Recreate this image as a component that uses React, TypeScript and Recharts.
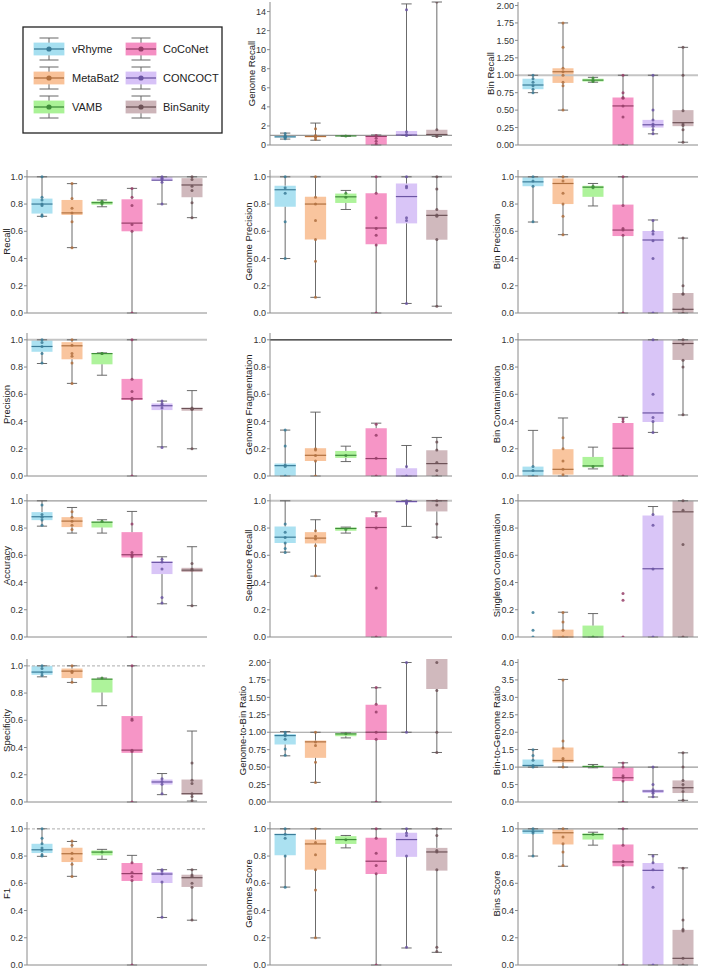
import React from 'react';
import { ComposedChart, ReferenceArea, ReferenceLine, Scatter, XAxis, YAxis } from 'recharts';

const methods = ['vRhyme', 'MetaBat2', 'VAMB', 'CoCoNet', 'CONCOCT', 'BinSanity'];

// each box: [low whisker, q1, median, q3, high whisker], one per method
const genomeRecallBox = [[0.62, 0.8, 0.85, 0.95, 1.25], [0.5, 0.8, 0.9, 1.0, 2.3], [0.9, 0.93, 0.95, 0.98, 1.0], [0, 0, 0.9, 0.98, 1.05], [1.0, 1.0, 1.05, 1.47, 14.8], [0.9, 1.05, 1.1, 1.6, 15]];
const genomeRecallPts = [[1.2, 0.95, 0.9, 0.85, 0.8, 0.65], [1.7, 1.0, 0.9, 0.8, 0.6], [0.95], [1.0, 0.7, 0.4, 0.1], [14.2, 1.4, 1.1, 1.0], [15, 1.6, 1.0, 0.9]];

const binRecallBox = [[0.75, 0.8, 0.86, 0.95, 1.0], [0.5, 0.89, 1.05, 1.1, 1.75], [0.9, 0.91, 0.93, 0.95, 0.97], [0, 0, 0.56, 0.68, 1.0], [0.16, 0.25, 0.29, 0.36, 1.0], [0.04, 0.27, 0.32, 0.5, 1.4]];
const binRecallPts = [[1.0, 0.95, 0.9, 0.85, 0.8, 0.75], [1.75, 1.4, 1.1, 1.05, 1.0, 0.9, 0.85, 0.5], [0.96, 0.93, 0.91], [1.0, 0.75, 0.68, 0.67, 0.56, 0.4, 0], [1.0, 0.5, 0.36, 0.3, 0.27, 0.22, 0.16], [1.4, 1.0, 0.49, 0.3, 0.28, 0.22, 0.04]];

const recallBox = [[0.71, 0.73, 0.8, 0.84, 1.0], [0.48, 0.72, 0.735, 0.83, 0.95], [0.78, 0.795, 0.81, 0.82, 0.83], [0, 0.6, 0.66, 0.835, 0.915], [0.8, 0.975, 0.975, 1.0, 1.0], [0.7, 0.85, 0.94, 0.99, 1.0]];
const recallPts = [[1.0, 0.85, 0.83, 0.8, 0.79, 0.72, 0.71], [0.95, 0.84, 0.77, 0.735, 0.67, 0.48], [0.82, 0.81, 0.8], [0.915, 0.85, 0.79, 0.65, 0.6, 0], [1.0, 0.99, 0.98, 0.96, 0.8], [1.0, 0.98, 0.93, 0.9, 0.81, 0.7]];

const genomePrecisionBox = [[0.4, 0.78, 0.905, 0.935, 1.0], [0.115, 0.54, 0.8, 0.853, 1.0], [0.76, 0.808, 0.853, 0.877, 0.9], [0, 0.504, 0.624, 0.88, 1.0], [0.07, 0.658, 0.855, 0.951, 1.0], [0.05, 0.538, 0.717, 0.757, 1.0]];
const genomePrecisionPts = [[1.0, 0.92, 0.88, 0.67, 0.4], [1.0, 0.85, 0.8, 0.68, 0.54, 0.38, 0.115], [0.88, 0.85], [1.0, 0.88, 0.7, 0.62, 0.57, 0.5, 0], [1.0, 0.93, 0.92, 0.7, 0.68, 0.07], [1.0, 0.91, 0.76, 0.72, 0.71, 0.54, 0.05]];

const binPrecisionBox = [[0.668, 0.931, 0.963, 1.0, 1.0], [0.575, 0.8, 0.951, 0.988, 1.0], [0.786, 0.853, 0.924, 0.934, 0.951], [0, 0.565, 0.609, 0.796, 1.0], [0, 0, 0.536, 0.602, 0.683], [0, 0, 0.027, 0.147, 0.55]];
const binPrecisionPts = [[1.0, 0.97, 0.93, 0.67], [1.0, 0.97, 0.88, 0.8, 0.71, 0.575], [0.93, 0.92], [1.0, 0.79, 0.62, 0.61, 0.57, 0], [0.68, 0.6, 0.58, 0.53, 0.4, 0], [0.55, 0.2, 0.14, 0.14, 0.03, 0]];

const precisionBox = [[0.826, 0.912, 0.951, 1.0, 1.0], [0.68, 0.857, 0.956, 0.983, 1.0], [0.74, 0.82, 0.899, 0.902, 0.904], [0, 0.558, 0.567, 0.713, 1.0], [0.214, 0.484, 0.516, 0.533, 0.55], [0.2, 0.479, 0.496, 0.5, 0.627]];
const precisionPts = [[1.0, 0.98, 0.95, 0.9, 0.83], [1.0, 0.96, 0.9, 0.88, 0.83, 0.68], [0.9, 0.9], [1.0, 0.71, 0.62, 0.57, 0.56, 0], [0.55, 0.53, 0.52, 0.5, 0.21], [0.5, 0.49, 0.49, 0.2]];

const fragmentationBox = [[0, 0, 0.076, 0.091, 0.337], [0, 0.11, 0.152, 0.204, 0.469], [0.106, 0.133, 0.152, 0.184, 0.219], [0, 0, 0.128, 0.351, 0.388], [0, 0, 0, 0.057, 0.224], [0, 0, 0.091, 0.189, 0.283]];
const fragmentationPts = [[0.337, 0.22, 0.08, 0.07, 0], [0.2, 0.19, 0.15, 0.11, 0], [0.15], [0.38, 0.3, 0.13, 0], [0.07, 0], [0.25, 0.19, 0.1, 0.04, 0]];

const binContaminationBox = [[0, 0, 0.037, 0.069, 0.335], [0, 0.01, 0.049, 0.197, 0.426], [0.052, 0.064, 0.074, 0.14, 0.212], [0, 0, 0.204, 0.389, 0.431], [0.32, 0.397, 0.463, 1.0, 1.0], [0.448, 0.852, 0.973, 1.0, 1.0]];
const binContaminationPts = [[0.07, 0.04, 0], [0.28, 0.2, 0.11, 0.05, 0.01], [0.07], [0.42, 0.4, 0], [1.0, 0.6, 0.43, 0.4, 0.32], [1.0, 0.97, 0.85, 0.8, 0.45]];

const accuracyBox = [[0.814, 0.858, 0.883, 0.917, 1.0], [0.763, 0.807, 0.851, 0.88, 0.951], [0.763, 0.804, 0.843, 0.848, 0.861], [0, 0.584, 0.604, 0.77, 0.922], [0.244, 0.462, 0.548, 0.555, 0.589], [0.23, 0.477, 0.491, 0.508, 0.663]];
const accuracyPts = [[0.97, 0.9, 0.88, 0.86, 0.82], [0.92, 0.88, 0.85, 0.82, 0.79], [0.85], [0.83, 0.62, 0.6, 0.59, 0], [0.57, 0.55, 0.5, 0.29, 0.25], [0.54, 0.5, 0.49, 0.23]];

const sequenceRecallBox = [[0.623, 0.69, 0.733, 0.812, 1.0], [0.447, 0.687, 0.726, 0.77, 0.861], [0.763, 0.78, 0.797, 0.804, 0.807], [0, 0, 0.804, 0.88, 0.919], [0.812, 0.988, 0.995, 1.0, 1.0], [0.733, 0.922, 1.0, 1.0, 1.0]];
const sequenceRecallPts = [[0.83, 0.77, 0.73, 0.69, 0.65, 0.62], [0.78, 0.74, 0.72, 0.67, 0.45], [0.79], [0.91, 0.89, 0.8, 0.36, 0], [1.0, 0.99, 0.98], [1.0, 0.97, 0.83, 0.73]];

const singletonBox = [[0, 0, 0, 0, 0], [0, 0, 0, 0.054, 0.182], [0, 0, 0, 0.084, 0.172], [0, 0, 0, 0, 0], [0, 0, 0.501, 0.892, 0.958], [0, 0, 0.919, 1.0, 1.0]];
const singletonPts = [[0.18, 0.05, 0], [0.18, 0.11, 0.05, 0], [0], [0.32, 0.27, 0], [0.9, 0.82, 0.5, 0], [1.0, 0.93, 0.68, 0]];

const specificityBox = [[0.919, 0.934, 0.954, 1.0, 1.0], [0.878, 0.91, 0.961, 0.98, 1.0], [0.707, 0.804, 0.902, 0.905, 0.91], [0, 0.361, 0.381, 0.631, 1.0], [0.054, 0.128, 0.147, 0.165, 0.209], [0.007, 0.054, 0.061, 0.165, 0.521]];
const specificityPts = [[1.0, 0.98, 0.95, 0.93], [1.0, 0.96, 0.95, 0.88], [0.91], [1.0, 0.61, 0.6, 0.38, 0.37, 0], [0.17, 0.15, 0.13, 0.06], [0.287, 0.16, 0.135, 0.06, 0.04, 0.01]];

const genomeToBinBox = [[0.662, 0.824, 0.952, 0.976, 1.01], [0.281, 0.633, 0.862, 0.881, 1.0], [0.919, 0.943, 0.976, 0.986, 0.99], [0, 0.89, 1.0, 1.395, 1.638], [1.0, 1.0, 1.0, 1.0, 2.0], [0.71, 1.62, 2.4, 3.0, 4.0]];
const genomeToBinPts = [[1.0, 0.97, 0.95, 0.9, 0.76, 0.67], [1.0, 0.86, 0.81, 0.57, 0.28], [0.98], [1.64, 1.4, 1.29, 1.0, 0.9, 0], [2.0, 1.0], [2.0, 1.6, 1.0, 0.71]];

const binToGenomeBox = [[1.0, 1.0, 1.048, 1.219, 1.505], [1.0, 1.133, 1.19, 1.562, 3.514], [0.981, 0.99, 1.019, 1.038, 1.076], [0, 0.6, 0.695, 1.0, 1.124], [0.143, 0.257, 0.314, 0.352, 1.0], [0.048, 0.257, 0.41, 0.619, 1.41]];
const binToGenomePts = [[1.5, 1.33, 1.2, 1.05, 1.0], [3.5, 1.75, 1.55, 1.25, 1.2, 1.0], [1.02], [1.12, 1.0, 0.75, 0.7, 0.6, 0], [1.0, 0.5, 0.35, 0.3, 0.25, 0.15], [1.41, 1.0, 0.62, 0.5, 0.4, 0.3, 0.05]];

const f1Box = [[0.798, 0.822, 0.846, 0.89, 1.0], [0.651, 0.756, 0.817, 0.861, 0.907], [0.776, 0.805, 0.829, 0.841, 0.849], [0, 0.617, 0.671, 0.749, 0.805], [0.349, 0.602, 0.668, 0.683, 0.7], [0.329, 0.573, 0.641, 0.663, 0.7]];
const f1Pts = [[1.0, 0.93, 0.89, 0.86, 0.84, 0.81, 0.8], [0.91, 0.88, 0.82, 0.78, 0.74, 0.65], [0.83], [0.75, 0.68, 0.65, 0.62, 0], [0.7, 0.69, 0.67, 0.61, 0.35], [0.7, 0.66, 0.65, 0.6, 0.57, 0.33]];

const genomesScoreBox = [[0.572, 0.806, 0.958, 0.963, 1.0], [0.199, 0.7, 0.889, 0.921, 1.0], [0.86, 0.889, 0.921, 0.946, 0.951], [0, 0.668, 0.762, 0.934, 1.0], [0.125, 0.794, 0.921, 0.971, 1.0], [0.093, 0.693, 0.83, 0.86, 1.0]];
const genomesScorePts = [[1.0, 0.96, 0.93, 0.8, 0.57], [1.0, 0.9, 0.81, 0.7, 0.55, 0.2], [0.92], [1.0, 0.93, 0.82, 0.73, 0.67, 0], [1.0, 0.97, 0.95, 0.8, 0.13], [1.0, 0.95, 0.84, 0.83, 0.7, 0.13, 0.1]];

const binsScoreBox = [[0.8, 0.963, 0.983, 1.0, 1.0], [0.725, 0.885, 0.971, 0.995, 1.0], [0.88, 0.921, 0.958, 0.966, 0.975], [0, 0.725, 0.757, 0.885, 1.0], [0, 0, 0.695, 0.749, 0.81], [0, 0, 0.049, 0.258, 0.713]];
const binsScorePts = [[1.0, 0.98, 0.97, 0.8], [1.0, 0.94, 0.89, 0.83, 0.73], [0.96], [1.0, 0.88, 0.76, 0.73, 0], [0.8, 0.75, 0.7, 0.57, 0], [0.71, 0.33, 0.26, 0.25, 0.05, 0]];

const unitTicks = [0, 0.2, 0.4, 0.6, 0.8, 1.0];
const genomeRecallTicks = [0, 2, 4, 6, 8, 10, 12, 14];
const quarterTicks = [0, 0.25, 0.5, 0.75, 1.0, 1.25, 1.5, 1.75, 2.0];
const halfTicks = [0, 0.5, 1.0, 1.5, 2.0, 2.5, 3.0, 3.5, 4.0];

const boxFill = ['#a6dff0', '#f9c299', '#aaf296', '#f58fc3', '#d7c2f7', '#cdb5b9'];
const lineColor = ['#3b7c98', '#b0703f', '#3f8d3a', '#963e69', '#6b55a3', '#6d5257'];

type RefStyle = 'gray' | 'light' | 'dark' | 'dotted';
type Panel = { title: string; box: number[][]; pts: number[][]; max: number; ticks: number[]; digits: number; ref: RefStyle };

const panel = (title: string, box: number[][], pts: number[][], max: number, ticks: number[], digits: number, ref: RefStyle): Panel =>
  ({ title, box, pts, max, ticks, digits, ref });

// grid of panels; null is where the legend sits
const grid: (Panel | null)[][] = [
  [null, panel('Genome Recall', genomeRecallBox, genomeRecallPts, 15, genomeRecallTicks, 0, 'gray'), panel('Bin Recall', binRecallBox, binRecallPts, 2.05, quarterTicks, 2, 'light')],
  [panel('Recall', recallBox, recallPts, 1.05, unitTicks, 1, 'gray'), panel('Genome Precision', genomePrecisionBox, genomePrecisionPts, 1.05, unitTicks, 1, 'light'), panel('Bin Precision', binPrecisionBox, binPrecisionPts, 1.05, unitTicks, 1, 'gray')],
  [panel('Precision', precisionBox, precisionPts, 1.05, unitTicks, 1, 'light'), panel('Genome Fragmentation', fragmentationBox, fragmentationPts, 1.05, unitTicks, 1, 'dark'), panel('Bin Contamination', binContaminationBox, binContaminationPts, 1.05, unitTicks, 1, 'gray')],
  [panel('Accuracy', accuracyBox, accuracyPts, 1.05, unitTicks, 1, 'gray'), panel('Sequence Recall', sequenceRecallBox, sequenceRecallPts, 1.05, unitTicks, 1, 'light'), panel('Singleton Contamination', singletonBox, singletonPts, 1.05, unitTicks, 1, 'gray')],
  [panel('Specificity', specificityBox, specificityPts, 1.05, unitTicks, 1, 'dotted'), panel('Genome-to-Bin Ratio', genomeToBinBox, genomeToBinPts, 2.05, quarterTicks, 2, 'gray'), panel('Bin-to-Genome Ratio', binToGenomeBox, binToGenomePts, 4.1, halfTicks, 1, 'gray')],
  [panel('F1', f1Box, f1Pts, 1.05, unitTicks, 1, 'dotted'), panel('Genomes Score', genomesScoreBox, genomesScorePts, 1.05, unitTicks, 1, 'gray'), panel('Bins Score', binsScoreBox, binsScorePts, 1.05, unitTicks, 1, 'gray')],
];

// layout
const colPlotLeft = [27, 270, 518];
const colPlotWidth = [180, 182, 180];
const rowPlotTop = [2, 170, 333, 494, 659, 822];
const PLOT_H = 143;
const Y_AXIS_W = 40;
const M_TOP = 6;
const M_BOTTOM = 6;
const M_RIGHT = 2;
const X_AXIS_H = 1;
const BOX_HALF = 0.35;
const CAP_HALF = 0.17;
const axisColor = '#8a8a8a';
const whiskerColor = '#5a5a5a';
const font = '"Liberation Sans", Arial, Helvetica, sans-serif';
const titleGap = [19, 22, 28];

const refProps: Record<RefStyle, any> = {
  gray: { stroke: '#9a9a9a', strokeWidth: 1.2 },
  light: { stroke: '#c4c4c4', strokeWidth: 2 },
  dark: { stroke: '#222', strokeWidth: 1.3 },
  dotted: { stroke: '#bdbdbd', strokeWidth: 1.2, strokeDasharray: '3 2' },
};

const BoxPanel = ({ p, row, col }: { p: Panel; row: number; col: number }) => {
  const plotW = colPlotWidth[col];
  const left = colPlotLeft[col] - Y_AXIS_W;
  const top = rowPlotTop[row] - M_TOP;
  const over = (vals: number[]) => (vals.some((v) => v > p.max) ? 'hidden' : 'visible');
  const marks: React.ReactNode[] = [];

  p.box.forEach(([lo, q1, med, q3, hi], i) => {
    const k = `${p.title}-${i}`;
    if (q1 > lo) {
      marks.push(<ReferenceLine key={`${k}-wl`} segment={[{ x: i, y: lo }, { x: i, y: q1 }]} stroke={whiskerColor} strokeWidth={0.9} ifOverflow={over([lo, q1])} />);
    }
    if (hi > q3) {
      marks.push(<ReferenceLine key={`${k}-wh`} segment={[{ x: i, y: q3 }, { x: i, y: hi }]} stroke={whiskerColor} strokeWidth={0.9} ifOverflow={over([q3, hi])} />);
    }
    if (hi > lo) {
      marks.push(<ReferenceLine key={`${k}-cl`} segment={[{ x: i - CAP_HALF, y: lo }, { x: i + CAP_HALF, y: lo }]} stroke={whiskerColor} strokeWidth={0.9} ifOverflow={over([lo])} />);
      marks.push(<ReferenceLine key={`${k}-ch`} segment={[{ x: i - CAP_HALF, y: hi }, { x: i + CAP_HALF, y: hi }]} stroke={whiskerColor} strokeWidth={0.9} ifOverflow={over([hi])} />);
    }
    if (q3 > q1) {
      marks.push(<ReferenceArea key={`${k}-box`} x1={i - BOX_HALF} x2={i + BOX_HALF} y1={q1} y2={q3} fill={boxFill[i]} fillOpacity={0.95} stroke="none" ifOverflow={over([q1, q3])} />);
      marks.push(<ReferenceLine key={`${k}-med`} segment={[{ x: i - BOX_HALF, y: med }, { x: i + BOX_HALF, y: med }]} stroke={lineColor[i]} strokeWidth={1.2} ifOverflow={over([med])} />);
    }
  });

  return (
    <div style={{ position: 'absolute', left, top }}>
      <ComposedChart
        width={Y_AXIS_W + plotW + M_RIGHT}
        height={PLOT_H + M_TOP + M_BOTTOM + X_AXIS_H}
        margin={{ top: M_TOP, right: M_RIGHT, bottom: M_BOTTOM, left: 0 }}
      >
        <XAxis type="number" dataKey="x" domain={[-0.5, 5.5]} allowDataOverflow tick={false} tickLine={false} height={X_AXIS_H} axisLine={{ stroke: axisColor }} />
        <YAxis
          type="number"
          dataKey="y"
          domain={[0, p.max]}
          allowDataOverflow
          ticks={p.ticks}
          interval={0}
          width={Y_AXIS_W}
          tickSize={3}
          tickMargin={1}
          tick={{ fontSize: 9, fill: '#333', fontFamily: font }}
          tickFormatter={(v: number) => v.toFixed(p.digits)}
          axisLine={{ stroke: axisColor }}
          tickLine={{ stroke: axisColor }}
        />
        <ReferenceLine y={1} {...refProps[p.ref]} />
        {marks}
        {methods.map((m, i) => (
          <Scatter
            key={m}
            name={m}
            data={p.pts[i].map((y) => ({ x: i, y }))}
            fill={lineColor[i]}
            isAnimationActive={false}
            shape={(s: any) => <circle cx={s.cx} cy={s.cy} r={1.5} fill={lineColor[i]} fillOpacity={0.85} />}
          />
        ))}
      </ComposedChart>
    </div>
  );
};

const LegendBox = () => {
  const colX = [49, 141];
  const textX = [72, 163];
  const rowY = [49, 78, 107];
  return (
    <svg width={230} height={140} style={{ position: 'absolute', left: 0, top: 0 }}>
      <rect x={23} y={27} width={199} height={106} fill="#fff" stroke="#222" strokeWidth={1.3} />
      {methods.map((m, i) => {
        const c = Math.floor(i / 3);
        const cx = colX[c];
        const cy = rowY[i % 3];
        return (
          <g key={m}>
            <line x1={cx} y1={cy - 11} x2={cx} y2={cy + 11} stroke="#666" strokeWidth={1} />
            <line x1={cx - 9.5} y1={cy - 11} x2={cx + 9.5} y2={cy - 11} stroke="#666" strokeWidth={1} />
            <line x1={cx - 9.5} y1={cy + 11} x2={cx + 9.5} y2={cy + 11} stroke="#666" strokeWidth={1} />
            <rect x={cx - 15} y={cy - 6} width={30} height={12} fill={boxFill[i]} stroke={boxFill[i]} strokeWidth={0.8} />
            <line x1={cx - 15} y1={cy} x2={cx + 15} y2={cy} stroke={lineColor[i]} strokeWidth={1.3} />
            <circle cx={cx} cy={cy} r={2.6} fill={lineColor[i]} />
            <text x={textX[c]} y={cy} dominantBaseline="central" fontSize={11} fill="#222" fontFamily={font}>{m}</text>
          </g>
        );
      })}
    </svg>
  );
};

const App = () => (
  <div style={{ position: 'absolute', left: 0, top: 0, width: 701, height: 970, overflow: 'hidden', background: '#fff', fontFamily: font }}>
    <LegendBox />
    {grid.map((cols, r) => cols.map((p, c) => (p ? <BoxPanel key={p.title} p={p} row={r} col={c} /> : null)))}
    <svg width={701} height={970} style={{ position: 'absolute', left: 0, top: 0, pointerEvents: 'none' }}>
      {grid.map((cols, r) => cols.map((p, c) => {
        if (!p) return null;
        const x = Math.max(6, colPlotLeft[c] - titleGap[p.digits]);
        const y = rowPlotTop[r] + PLOT_H / 2;
        return (
          <text key={p.title} x={x} y={y} transform={`rotate(-90 ${x} ${y})`} textAnchor="middle" dominantBaseline="central" fontSize={9.5} fill="#222" fontFamily={font}>
            {p.title}
          </text>
        );
      }))}
    </svg>
  </div>
);

export default App;
